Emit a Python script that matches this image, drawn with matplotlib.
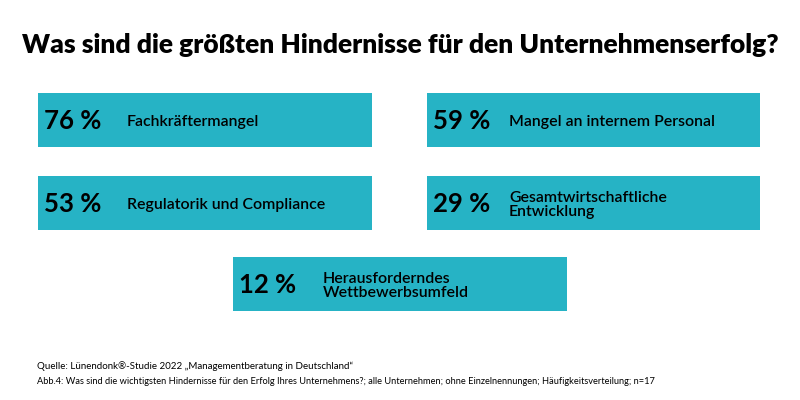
import matplotlib.pyplot as plt
from matplotlib.patches import Rectangle

# --- Data ---
title = 'Was sind die größten Hindernisse für den Unternehmenserfolg?'
shares = [76, 59, 53, 29, 12]
labels = ['Fachkräftermangel', 'Mangel an internem Personal', 'Regulatorik und Compliance',
          'Gesamtwirtschaftliche\nEntwicklung', 'Herausforderndes\nWettbewerbsumfeld']
source_lines = ['Quelle: Lünendonk®-Studie 2022 „Managementberatung in Deutschland“',
                'Abb.4: Was sind die wichtigsten Hindernisse für den Erfolg Ihres Unternehmens?; '
                'alle Unternehmen; ohne Einzelnennungen; Häufigkeitsverteilung; n=17']

# --- Layout (pixels, y from top) ---
BOX_COLOR = '#26B3C5'
box_left = [38, 427, 38, 427, 233]
box_top = [93, 93, 176, 176, 257]
box_w = [334, 333, 334, 333, 334]
box_h = 54
label_off = [89, 82, 89, 82, 90]

plt.rcParams['font.family'] = ['Lato', 'DejaVu Sans']

fig = plt.figure(figsize=(8, 4), dpi=100)
ax = fig.add_axes([0, 0, 1, 1])
ax.set_xlim(0, 800)
ax.set_ylim(400, 0)
ax.axis('off')

ax.text(400, 45, title, ha='center', va='center', fontsize=19, fontweight='heavy', color='black')

for i, (val, lab) in enumerate(zip(shares, labels)):
    x0, y0 = box_left[i], box_top[i]
    ax.add_patch(Rectangle((x0, y0), box_w[i], box_h, facecolor=BOX_COLOR, edgecolor='none'))
    yc = y0 + box_h / 2
    ax.text(x0 + 6, yc + 1, f'{val} %', ha='left', va='center', fontsize=18.5,
            fontweight='bold', color='black')
    ax.text(x0 + label_off[i], yc + 2, lab, ha='left', va='center', fontsize=11.4,
            fontweight='semibold', color='black', linespacing=1.05)

ax.text(37, 366, source_lines[0], ha='left', va='center', fontsize=7, color='black')
ax.text(37, 382, source_lines[1], ha='left', va='center', fontsize=6.7, color='black')

fig.savefig('out.png', dpi=100)
